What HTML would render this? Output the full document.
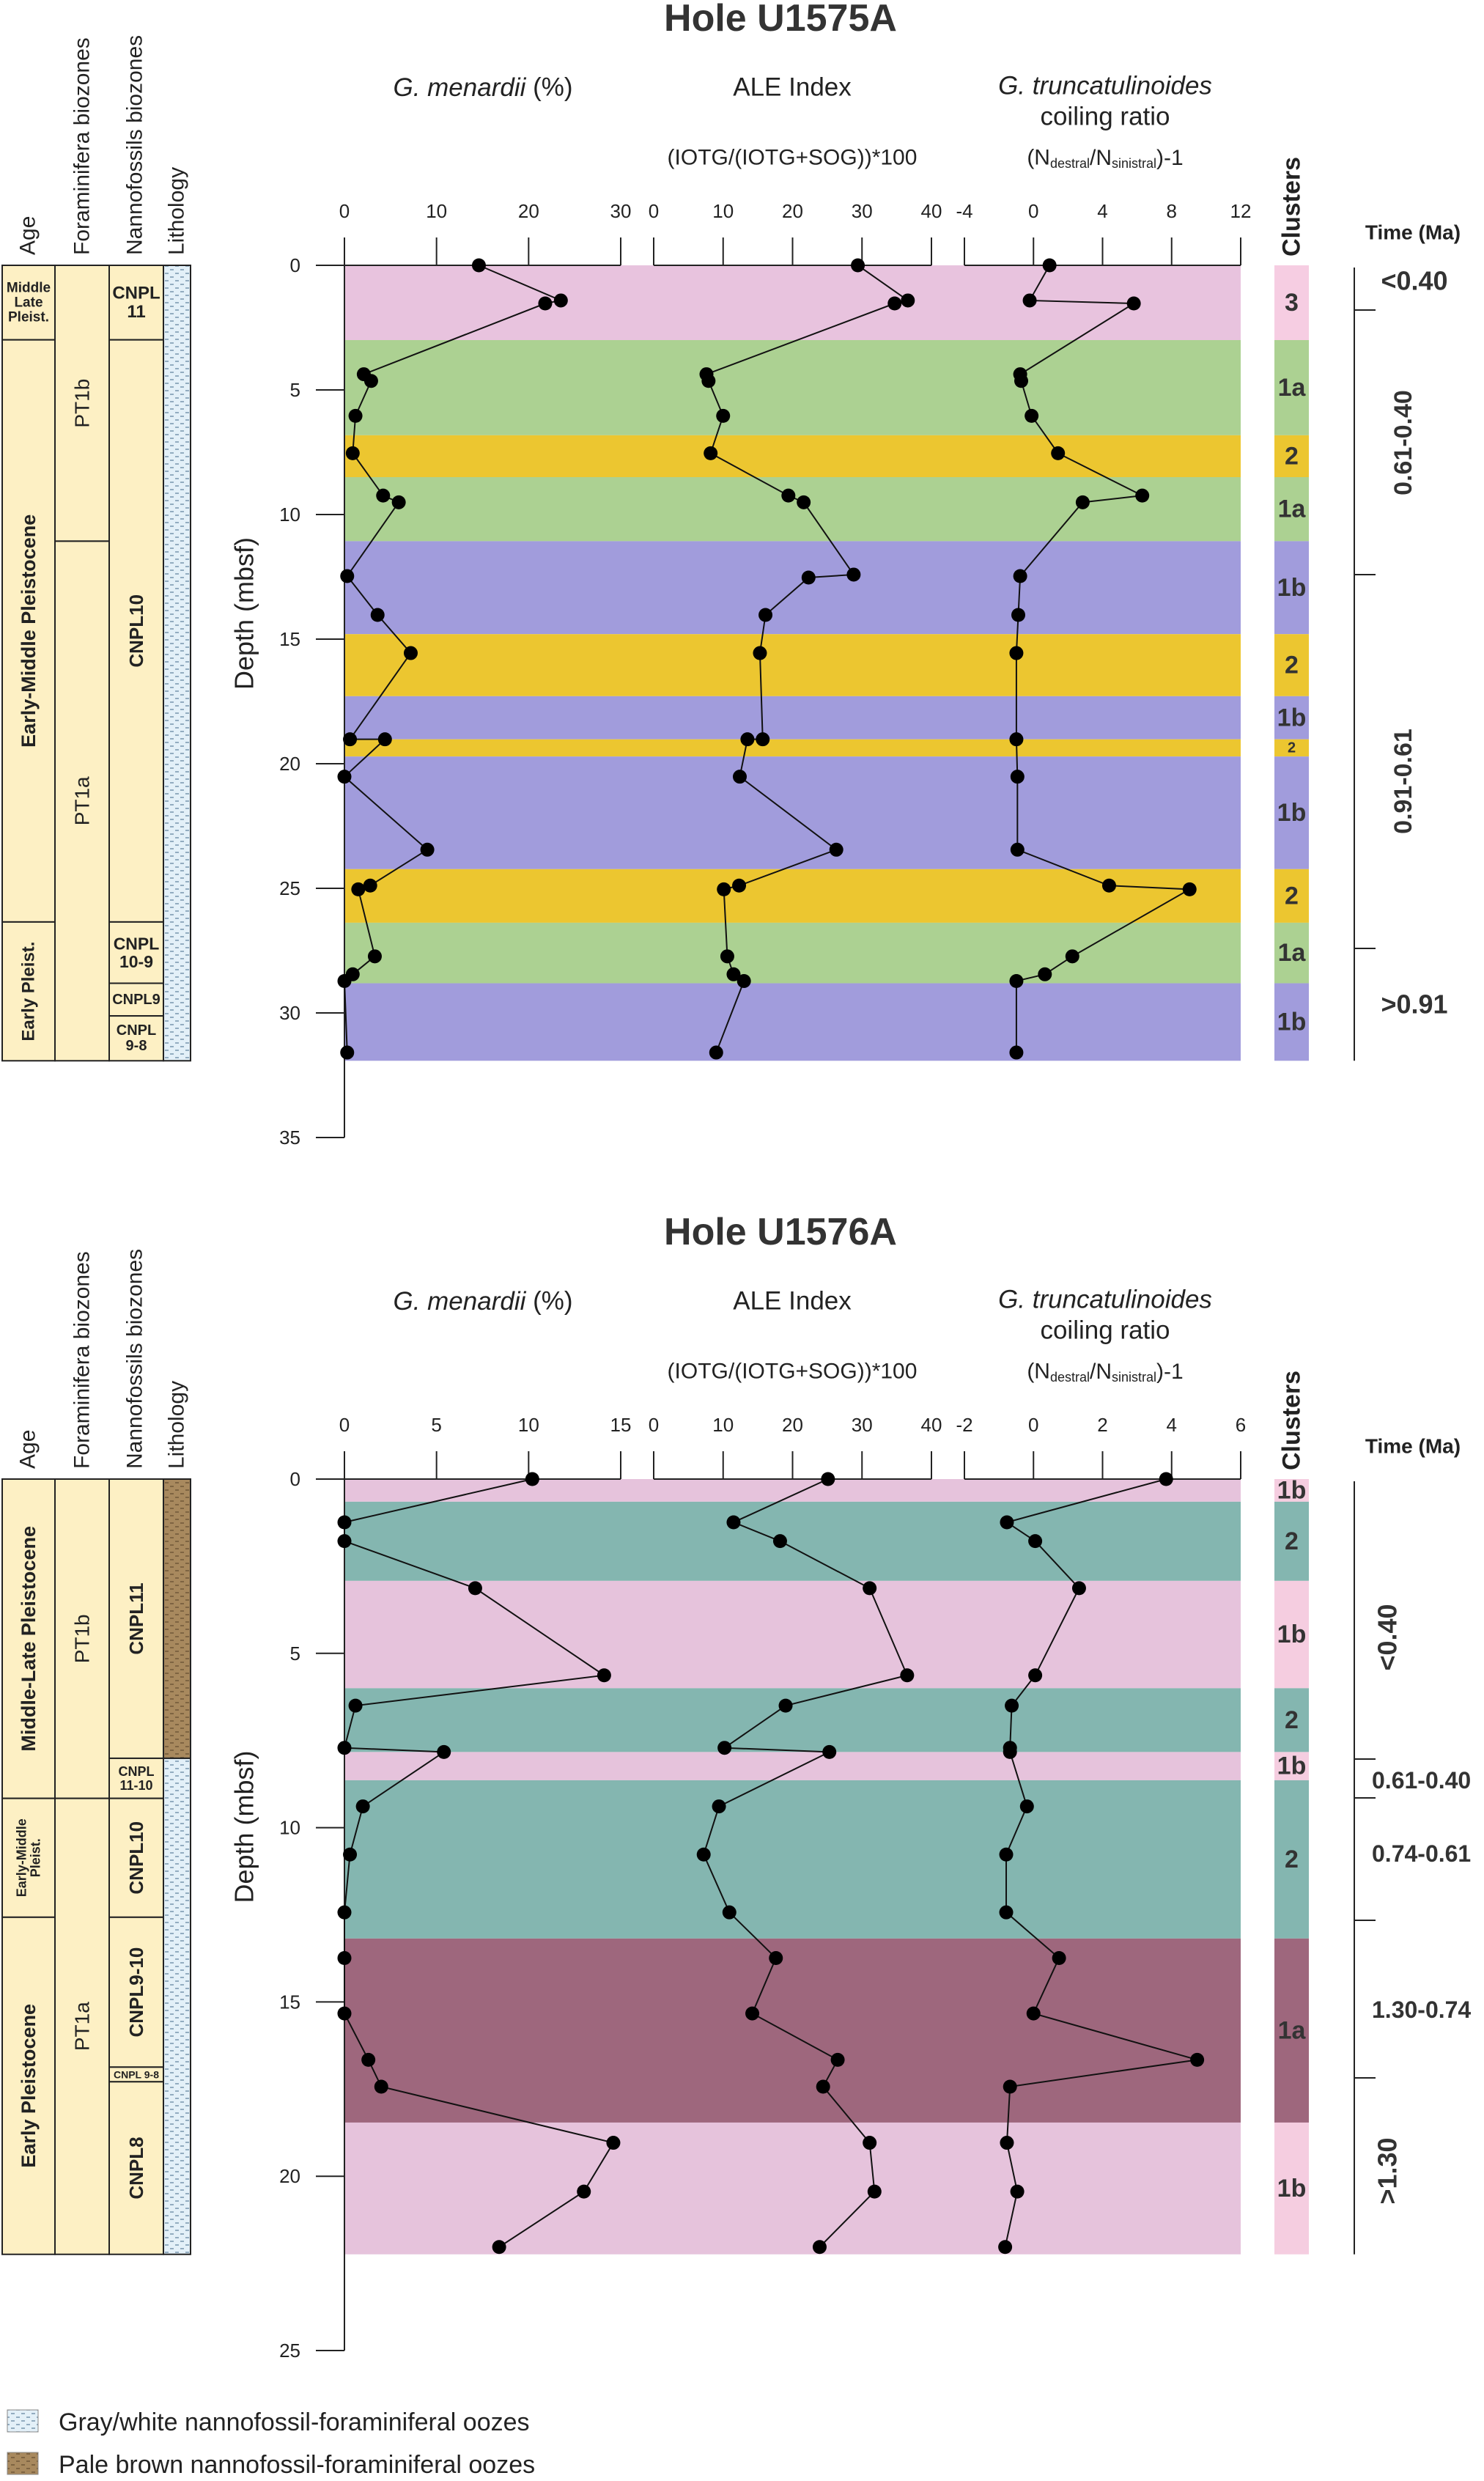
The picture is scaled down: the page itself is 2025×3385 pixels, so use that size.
<!DOCTYPE html>
<html><head><meta charset="utf-8">
<style>
html,body{margin:0;padding:0;background:#fff;}
svg{display:block;font-family:"Liberation Sans",Arial,sans-serif;}
</style></head>
<body>
<svg id="fig" width="2025" height="3385" viewBox="0 0 2025 3385" xmlns="http://www.w3.org/2000/svg">
<defs>
<pattern id="oozeGray" width="14" height="10" patternUnits="userSpaceOnUse">
<rect width="14" height="10" fill="#e3f0f8"/>
<line x1="1" y1="3" x2="6" y2="3" stroke="#6f8fa8" stroke-width="1.4"/>
<line x1="8" y1="8" x2="13" y2="8" stroke="#6f8fa8" stroke-width="1.4"/>
</pattern>
<pattern id="oozeBrown" width="14" height="10" patternUnits="userSpaceOnUse">
<rect width="14" height="10" fill="#a8895e"/>
<line x1="1" y1="3" x2="6" y2="3" stroke="#6c5436" stroke-width="1.4"/>
<line x1="8" y1="8" x2="13" y2="8" stroke="#6c5436" stroke-width="1.4"/>
</pattern>
</defs>
<g id="legend">
<rect x="10" y="3288" width="42" height="30" fill="url(#oozeGray)" stroke="#888" stroke-width="1"/>
<text x="80" y="3316" font-size="34" fill="#222">Gray/white nannofossil-foraminiferal oozes</text>
<rect x="10" y="3346" width="42" height="30" fill="url(#oozeBrown)" stroke="#888" stroke-width="1"/>
<text x="80" y="3374" font-size="34" fill="#222">Pale brown nannofossil-foraminiferal oozes</text>
</g>
</svg>
<script>
// ---------- Hole U1575A data ----------
const a_depth_men = [0,1.41,1.53,4.37,4.64,6.04,7.54,9.24,9.51,12.47,14.03,15.56,19.02,19.02,20.52,23.45,24.89,25.04,27.73,28.45,28.72,31.59];
const a_men = [14.6,23.5,21.8,2.1,2.9,1.2,0.9,4.2,5.9,0.3,3.6,7.2,0.6,4.4,0,9.0,2.8,1.5,3.3,0.9,0,0.3];
const a_depth_ale = [0,1.41,1.53,4.37,4.64,6.04,7.54,9.24,9.51,12.41,12.53,14.03,15.56,19.02,19.02,20.52,23.45,24.89,25.04,27.73,28.45,28.72,31.59];
const a_ale = [29.4,36.6,34.7,7.6,7.9,10.0,8.2,19.4,21.6,28.8,22.3,16.1,15.3,15.7,13.5,12.4,26.3,12.3,10.1,10.6,11.5,13.0,9.0];
const a_depth_tr = [0,1.41,1.53,4.37,4.64,6.04,7.54,9.24,9.51,12.47,14.03,15.56,19.02,20.52,23.45,24.89,25.04,27.73,28.45,28.72,31.59];
const a_tr = [0.93,-0.22,5.81,-0.77,-0.71,-0.11,1.42,6.30,2.85,-0.77,-0.88,-0.99,-0.99,-0.93,-0.93,4.38,9.04,2.25,0.66,-0.99,-0.99];
const a_band_tops = [0,3.0,6.82,8.5,11.07,14.8,17.29,19.02,19.71,24.23,26.38,28.81];
const a_band_bots = [3.0,6.82,8.5,11.07,14.8,17.29,19.02,19.71,24.23,26.38,28.81,31.92];
const a_band_clusters = ["3","1a","2","1a","1b","2","1b","2","1b","2","1a","1b"];

// ---------- Hole U1576A data ----------
const b_depth = [0,1.24,1.78,3.13,5.63,6.50,7.71,7.83,9.39,10.77,12.43,13.74,15.33,16.66,17.43,19.04,20.44,22.03];
const b_men = [10.2,0,0,7.1,14.1,0.6,0,5.4,1.0,0.3,0,0,0,1.3,2.0,14.6,13.0,8.4];
const b_ale = [25.1,11.5,18.2,31.1,36.5,19.0,10.2,25.3,9.4,7.2,10.9,17.6,14.2,26.5,24.4,31.1,31.8,23.9];
const b_tr = [3.84,-0.77,0.05,1.32,0.05,-0.63,-0.68,-0.68,-0.19,-0.79,-0.79,0.74,0.0,4.74,-0.68,-0.77,-0.47,-0.82];
const b_band_tops = [0,0.65,2.92,6.0,7.83,8.64,13.18,18.46];
const b_band_bots = [0.65,2.92,6.0,7.83,8.64,13.18,18.46,22.24];
const b_band_clusters = ["1b","2","1b","2","1b","2","1a","1b"];

// tick labels
const a_men_ticks = [0,10,20,30];
const b_men_ticks = [0,5,10,15];
const ale_ticks = [0,10,20,30,40];
const a_tr_ticks = [-4,0,4,8,12];
const b_tr_ticks = [-2,0,2,4,6];
const a_depth_ticks = [0,5,10,15,20,25,30,35];
const b_depth_ticks = [0,5,10,15,20,25];

const NS = "http://www.w3.org/2000/svg";
const svg = document.getElementById('fig');
const AX0 = 470, BAND_R = 1693, CL_X = 1739, CL_W = 47, TIME_X = 1848;
function mk(tag, parent){ const e=document.createElementNS(NS,tag); parent.appendChild(e); return e; }
function set(e, o){ for(const k in o) e.setAttribute(k,o[k]); return e; }
function txt(parent, s, x, y, size, opts){
  const t = mk('text', parent);
  set(t,{x:x,y:y,'font-size':size,fill:(opts&&opts.fill)||'#222','text-anchor':(opts&&opts.anchor)||'middle','dominant-baseline':'central'});
  if(opts&&opts.bold) t.setAttribute('font-weight','bold');
  if(opts&&opts.italic) t.setAttribute('font-style','italic');
  if(opts&&opts.rot!==undefined) t.setAttribute('transform','rotate('+opts.rot+' '+x+' '+y+')');
  t.textContent = s;
  return t;
}

const clusterColor = {A:{"3":"#e8c3de","1a":"#acd192","2":"#ecc630","1b":"#a19cdc"},
                      B:{"1b":"#e6c3dc","2":"#84b6b0","1a":"#9e677d"}};
const clusterBox = {A:{"3":"#f6cde2","1a":"#acd192","2":"#ecc630","1b":"#a19cdc"},
                    B:{"1b":"#f5cde0","2":"#84b6b0","1a":"#9e677d"}};

function panel(cfg){
  const g = mk('g', svg);
  
  
  const y0 = cfg.y0, ppm = cfg.ppm;
  const Y = d => y0 + d*ppm;
  const X = (v, ax) => ax.x0 + (v - ax.d0) / (ax.d1 - ax.d0) * (ax.x1 - ax.x0);

  const tt = txt(g, cfg.title, 1065, y0-337, 52, {bold:true, fill:'#333'});
  
  

  for(let i=0;i<cfg.tops.length;i++){
    const r = mk('rect', g);
    set(r,{x:AX0,y:Y(cfg.tops[i]),width:BAND_R-AX0,height:Y(cfg.bots[i])-Y(cfg.tops[i]),fill:clusterColor[cfg.key][cfg.clusters[i]]});
    
    
    const c = mk('rect', g);
    set(c,{x:CL_X,y:Y(cfg.tops[i]),width:CL_W,height:Y(cfg.bots[i])-Y(cfg.tops[i]),fill:clusterBox[cfg.key][cfg.clusters[i]]});
    
    
    const h = Y(cfg.bots[i])-Y(cfg.tops[i]);
    const lbl = txt(g, cfg.clusters[i], CL_X+CL_W/2, (Y(cfg.tops[i])+Y(cfg.bots[i]))/2, h<30?20:34, {bold:true, fill:'#333'});
    
    
  }
  const cl = txt(g, 'Clusters', CL_X+CL_W/2, y0-12, 34, {bold:true, anchor:'start', rot:-90, fill:'#222'});
  
  

  const dax = mk('line', g);
  set(dax,{x1:AX0,y1:y0,x2:AX0,y2:Y(cfg.dmax),stroke:'#222','stroke-width':2});
  
  
  cfg.dticks.forEach(d=>{
    const tk = mk('line', g);
    set(tk,{x1:AX0-39,y1:Y(d),x2:AX0,y2:Y(d),stroke:'#222','stroke-width':2});
    
    
    const tl = txt(g, String(d), AX0-60, Y(d), 26, {anchor:'end'});
    
    
  });
  const dt = txt(g, 'Depth (mbsf)', 333, (y0+Y(cfg.dmax))/2 - 120, 36, {rot:-90});
  
  

  cfg.axes.forEach(ax=>{
    const al = mk('line', g);
    set(al,{x1:ax.x0,y1:y0,x2:ax.x1,y2:y0,stroke:'#222','stroke-width':2});
    
    
    ax.ticks.forEach(v=>{
      const tk = mk('line', g);
      set(tk,{x1:X(v,ax),y1:y0-38,x2:X(v,ax),y2:y0,stroke:'#222','stroke-width':2});
      
      
      const tl = txt(g, String(v), X(v,ax), y0-74, 26);
      
      
    });
    let pts = '';
    for(let i=0;i<ax.vals.length;i++) pts += X(ax.vals[i],ax)+','+Y(ax.depths[i])+' ';
    const pl = mk('polyline', g);
    set(pl,{points:pts.trim(),fill:'none',stroke:'#111','stroke-width':2});
    
    
    for(let i=0;i<ax.vals.length;i++){
      const c = mk('circle', g);
      set(c,{cx:X(ax.vals[i],ax),cy:Y(ax.depths[i]),r:9.5,fill:'#000'});
      
      
    }
  });

  const h1 = mk('text', g);
  set(h1,{x:659,y:y0-243,'font-size':35,'text-anchor':'middle','dominant-baseline':'central',fill:'#222'});
  h1.innerHTML = '<tspan font-style="italic">G. menardii</tspan> (%)';
  
  
  const h2 = txt(g, 'ALE Index', 1081, y0-243, 35);
  
  
  const h3 = txt(g, 'G. truncatulinoides', 1508, y0-245, 35, {italic:true});
  
  
  const h4 = txt(g, 'coiling ratio', 1508, y0-203, 35);
  
  
  const h5 = txt(g, '(IOTG/(IOTG+SOG))*100', 1081, y0-147, 30);
  
  
  const h6 = mk('text', g);
  set(h6,{x:1508,y:y0-147,'font-size':30,'text-anchor':'middle','dominant-baseline':'central',fill:'#222'});
  h6.innerHTML = '(N<tspan font-size="18" dy="8">destral</tspan><tspan dy="-8">/N</tspan><tspan font-size="18" dy="8">sinistral</tspan><tspan dy="-8">)-1</tspan>';
  
  

  const colX = [[3,75],[75,149],[149,223],[223,260]];
  const heads = ['Age','Foraminifera biozones','Nannofossils biozones','Lithology'];
  const headX = [38,112,184,241];
  heads.forEach((s,i)=>{
    const t = txt(g, s, headX[i], y0-14, 30, {anchor:'start', rot:-90});
    
    
  });
  [cfg.age, cfg.foram, cfg.nanno].forEach((col,ci)=>{
    col.forEach(cell=>{
      const r = mk('rect', g);
      set(r,{x:colX[ci][0],y:Y(cell[0]),width:colX[ci][1]-colX[ci][0],height:Y(cell[1])-Y(cell[0]),fill:'#fdf0c4',stroke:'#222','stroke-width':2});
      
      
      const cx = (colX[ci][0]+colX[ci][1])/2, cy = (Y(cell[0])+Y(cell[1]))/2;
      const lines = cell[2].split('|');
      const fs = cell[4]||26;
      lines.forEach((ln,li)=>{
        const off = (li-(lines.length-1)/2)*fs*1.05;
        const t = cell[3] ? txt(g, ln, cx+off, cy, fs, {bold:ci!==1, rot:-90}) : txt(g, ln, cx, cy+off, fs, {bold:ci!==1});
        
        
      });
    });
  });
  cfg.litho.forEach(l=>{
    const r = mk('rect', g);
    set(r,{x:223,y:Y(l[0]),width:37,height:Y(l[1])-Y(l[0]),fill:l[2],stroke:'#222','stroke-width':2});
    
    
  });

  const tl = mk('line', g);
  set(tl,{x1:TIME_X,y1:y0+3,x2:TIME_X,y2:Y(cfg.bots[cfg.bots.length-1]),stroke:'#222','stroke-width':2});
  
  
  cfg.timeTicks.forEach(y=>{
    const tk = mk('line', g);
    set(tk,{x1:TIME_X,y1:y,x2:TIME_X+29,y2:y,stroke:'#222','stroke-width':2});
    
    
  });
  const th = txt(g, 'Time (Ma)', 1928, y0-45, 28, {bold:true});
  
  
  cfg.timeLabels.forEach(l=>{
    const t = txt(g, l[0], l[1], l[2], l[4]||34, {bold:true, rot:l[3]?-90:undefined, anchor:l[5]||'middle', fill:'#333'});
    
    
  });
}

panel({name:'hole-u1575a-panel', key:'A', title:'Hole U1575A', y0:362, ppm:34.0, dmax:35, dticks:a_depth_ticks,
  tops:a_band_tops, bots:a_band_bots, clusters:a_band_clusters,
  axes:[
    {id:'menardii', x0:470, x1:847, d0:0, d1:30, ticks:a_men_ticks, vals:a_men, depths:a_depth_men},
    {id:'ale', x0:892, x1:1271, d0:0, d1:40, ticks:ale_ticks, vals:a_ale, depths:a_depth_ale},
    {id:'truncatulinoides', x0:1316, x1:1693, d0:-4, d1:12, ticks:a_tr_ticks, vals:a_tr, depths:a_depth_tr}],
  age:[[0,2.99,'Middle|Late|Pleist.',false,19],[2.99,26.35,'Early-Middle Pleistocene',true,27],[26.35,31.92,'Early Pleist.',true,24]],
  foram:[[0,11.07,'PT1b',true,28],[11.07,31.92,'PT1a',true,28]],
  nanno:[[0,2.99,'CNPL|11',false,24],[2.99,26.35,'CNPL10',true,26],[26.35,28.81,'CNPL|10-9',false,23],[28.81,30.12,'CNPL9',false,20],[30.12,31.92,'CNPL|9-8',false,20]],
  litho:[[0,31.92,'url(#oozeGray)']],
  timeTicks:[423,784,1294],
  timeLabels:[['<0.40',1930,383,false,36],['0.61-0.40',1915,604,true,34],['0.91-0.61',1915,1066,true,34],['>0.91',1930,1370,false,36]]
});

panel({name:'hole-u1576a-panel', key:'B', title:'Hole U1576A', y0:2018, ppm:47.56, dmax:25, dticks:b_depth_ticks,
  tops:b_band_tops, bots:b_band_bots, clusters:b_band_clusters,
  axes:[
    {id:'menardii', x0:470, x1:847, d0:0, d1:15, ticks:b_men_ticks, vals:b_men, depths:b_depth},
    {id:'ale', x0:892, x1:1271, d0:0, d1:40, ticks:ale_ticks, vals:b_ale, depths:b_depth},
    {id:'truncatulinoides', x0:1316, x1:1693, d0:-2, d1:6, ticks:b_tr_ticks, vals:b_tr, depths:b_depth}],
  age:[[0,9.16,'Middle-Late Pleistocene',true,27],[9.16,12.57,'Early-Middle|Pleist.',true,18],[12.57,22.24,'Early Pleistocene',true,27]],
  foram:[[0,9.16,'PT1b',true,28],[9.16,22.24,'PT1a',true,28]],
  nanno:[[0,8.01,'CNPL11',true,26],[8.01,9.16,'CNPL|11-10',false,18],[9.16,12.57,'CNPL10',true,26],[12.57,16.87,'CNPL9-10',true,26],[16.87,17.29,'CNPL 9-8',false,14],[17.29,22.24,'CNPL8',true,26]],
  litho:[[0,8.01,'url(#oozeBrown)'],[8.01,22.24,'url(#oozeGray)']],
  timeTicks:[2400,2453,2620,2835],
  timeLabels:[['<0.40',1893,2234,true,36],['0.61-0.40',1872,2429,false,32,'start'],['0.74-0.61',1872,2529,false,32,'start'],['1.30-0.74',1872,2742,false,32,'start'],['>1.30',1893,2962,true,36]]
});
</script>
</body></html>
